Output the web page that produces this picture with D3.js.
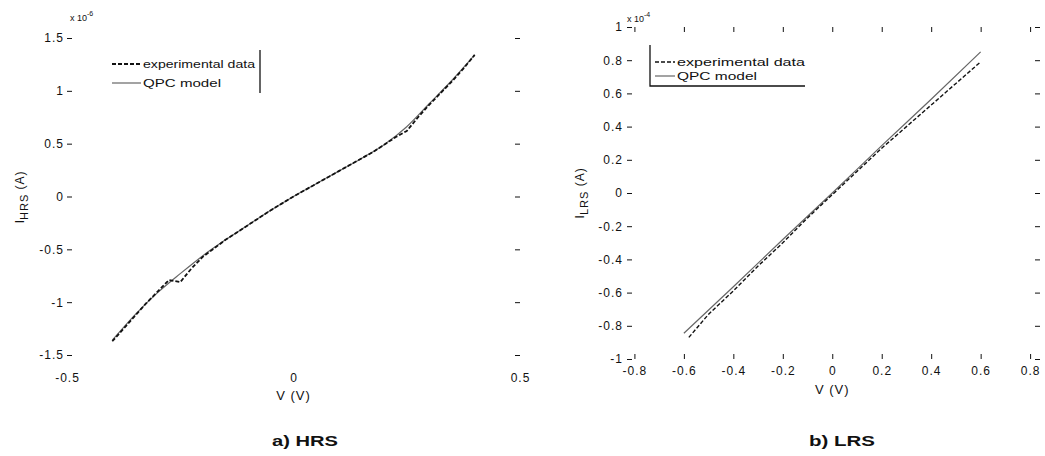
<!DOCTYPE html>
<html>
<head>
<meta charset="utf-8">
<script src="https://cdn.jsdelivr.net/npm/d3@7"></script>
<style>
  body { margin: 0; background: #fff; }
  svg { font-family: 'Liberation Sans', Arial, sans-serif; }
  .tick text { font-size: 12px; letter-spacing: 1px; fill: #111; }
  .tick line { stroke: #111; }
</style>
</head>
<body>
<script>
// HRS data (current in 1e-6 A)
var hrsModelV = [-0.40, -0.35, -0.30, -0.25, -0.20, -0.15, -0.10, -0.05, 0, 0.05, 0.10, 0.15, 0.20, 0.25, 0.30, 0.35, 0.40];
var hrsModelI = [-1.36, -1.12, -0.91, -0.73, -0.56, -0.41, -0.27, -0.13, 0, 0.12, 0.24, 0.36, 0.49, 0.66, 0.88, 1.10, 1.34];
var hrsExpV = [-0.40, -0.375, -0.35, -0.325, -0.30, -0.275, -0.25, -0.225, -0.20, -0.175, -0.15, -0.125, -0.10, -0.075, -0.05, -0.025, 0,
  0.025, 0.05, 0.075, 0.10, 0.125, 0.15, 0.175, 0.20, 0.225, 0.25, 0.275, 0.30, 0.325, 0.35, 0.375, 0.40];
var hrsExpI = [-1.37, -1.25, -1.13, -1.01, -0.90, -0.79, -0.81, -0.68, -0.57, -0.49, -0.41, -0.34, -0.27, -0.20, -0.13, -0.065, 0,
  0.06, 0.12, 0.18, 0.24, 0.30, 0.36, 0.42, 0.49, 0.56, 0.62, 0.75, 0.87, 0.98, 1.09, 1.21, 1.34];

// LRS data (current in 1e-4 A)
var lrsModelV = [-0.6, -0.4, -0.2, 0, 0.2, 0.4, 0.6];
var lrsModelI = [-0.845, -0.565, -0.28, 0, 0.285, 0.565, 0.85];
var lrsExpV = [-0.58, -0.5, -0.4, -0.3, -0.2, -0.1, 0, 0.1, 0.2, 0.3, 0.4, 0.5, 0.6];
var lrsExpI = [-0.87, -0.73, -0.59, -0.44, -0.30, -0.15, -0.01, 0.13, 0.27, 0.40, 0.53, 0.66, 0.79];

// tick values
var hrsXTicks = [-0.5, 0, 0.5];
var hrsYTicks = [-1.5, -1, -0.5, 0, 0.5, 1, 1.5];
var lrsXTicks = [-0.8, -0.6, -0.4, -0.2, 0, 0.2, 0.4, 0.6, 0.8];
var lrsYTicks = [-1, -0.8, -0.6, -0.4, -0.2, 0, 0.2, 0.4, 0.6, 0.8, 1];

var legendLabels = ['experimental data', 'QPC model'];

var svg = d3.select('body').append('svg')
  .attr('width', 1045)
  .attr('height', 456);

function zip(a, b) {
  return a.map(function(v, i) { return [v, b[i]]; });
}

// plain hyphen minus like the original figure
function fmt(d) { return String(d); }

function drawPanel(p) {
  var x = d3.scaleLinear().domain(p.xDomain).range([p.left, p.right]);
  var y = d3.scaleLinear().domain(p.yDomain).range([p.bottom, p.top]);
  var g = svg.append('g');

  // y ticks, left and right (pointing inward)
  g.append('g')
    .attr('transform', 'translate(' + p.left + ',0)')
    .call(d3.axisLeft(y).tickValues(p.yTicks).tickSize(-5).tickPadding(p.yPad).tickFormat(fmt))
    .call(function(s) { s.select('.domain').remove(); });
  g.append('g')
    .attr('transform', 'translate(' + p.right + ',0)')
    .call(d3.axisRight(y).tickValues(p.yTicks).tickSize(-5).tickFormat(''))
    .call(function(s) { s.select('.domain').remove(); });

  // x ticks
  g.append('g')
    .attr('transform', 'translate(0,' + p.bottom + ')')
    .call(d3.axisBottom(x).tickValues(p.xTicks).tickSize(p.xTickMarks ? -5 : 0).tickPadding(p.xPad).tickFormat(fmt))
    .call(function(s) { s.select('.domain').remove(); });
  if (p.xTickMarks) {
    g.append('g')
      .attr('transform', 'translate(0,' + p.top + ')')
      .call(d3.axisTop(x).tickValues(p.xTicks).tickSize(-5).tickFormat(''))
      .call(function(s) { s.select('.domain').remove(); });
  }

  var line = d3.line()
    .x(function(d) { return x(d[0]); })
    .y(function(d) { return y(d[1]); });

  g.append('path')
    .datum(zip(p.modelV, p.modelI))
    .attr('d', line.curve(d3.curveMonotoneX))
    .attr('fill', 'none')
    .attr('stroke', '#666')
    .attr('stroke-width', 1.2);

  g.append('path')
    .datum(zip(p.expV, p.expI))
    .attr('d', line.curve(d3.curveLinear))
    .attr('fill', 'none')
    .attr('stroke', '#111')
    .attr('stroke-width', p.expWidth)
    .attr('stroke-dasharray', '4,2');

  // exponent note
  var ex = g.append('text')
    .attr('x', p.expoX)
    .attr('y', p.expoY)
    .attr('font-size', 9)
    .attr('fill', '#111');
  ex.append('tspan').text('x 10');
  ex.append('tspan').attr('dy', -5).attr('font-size', 7).text(p.expo);

  // y label
  var yl = g.append('text')
    .attr('transform', 'translate(' + p.ylX + ',' + p.ylY + ') rotate(-90)')
    .attr('text-anchor', 'middle')
    .attr('font-size', 13)
    .attr('fill', '#111');
  yl.append('tspan').text('I');
  yl.append('tspan').attr('dy', 4).attr('font-size', 11).attr('letter-spacing', 1).text(p.sub);
  yl.append('tspan').attr('dy', -4).attr('font-size', 12).attr('letter-spacing', 1).text(' (A)');

  // x label
  g.append('text')
    .attr('x', x(0))
    .attr('y', p.xlY)
    .attr('text-anchor', 'middle')
    .attr('font-size', 13)
    .attr('letter-spacing', 1)
    .attr('fill', '#111')
    .text('V (V)');

  // caption
  g.append('text')
    .attr('x', p.capX)
    .attr('y', 446)
    .attr('text-anchor', 'middle')
    .attr('font-size', 15)
    .attr('font-weight', 'bold')
    .attr('textLength', 66)
    .attr('lengthAdjust', 'spacingAndGlyphs')
    .attr('fill', '#111')
    .text(p.caption);

  // legend
  var lg = g.append('g');
  lg.append('path')
    .attr('d', p.legBox)
    .attr('fill', 'none')
    .attr('stroke', '#111')
    .attr('stroke-width', 1.3);
  legendLabels.forEach(function(lab, i) {
    var ly = p.legY[i];
    lg.append('line')
      .attr('x1', p.legX0).attr('x2', p.legX1)
      .attr('y1', ly).attr('y2', ly)
      .attr('stroke', i === 0 ? '#111' : '#666')
      .attr('stroke-width', i === 0 ? p.expWidth : 1.2)
      .attr('stroke-dasharray', i === 0 ? '4,2' : null);
    lg.append('text')
      .attr('x', p.legX1 + 2)
      .attr('y', ly + 4)
      .attr('font-size', 11)
      .attr('textLength', p.legW[i])
      .attr('lengthAdjust', 'spacingAndGlyphs')
      .attr('fill', '#111')
      .text(lab);
  });
}

drawPanel({
  xDomain: [-0.5, 0.5], yDomain: [-1.5, 1.5],
  left: 67, right: 520, top: 38, bottom: 355,
  xTicks: hrsXTicks, yTicks: hrsYTicks, xTickMarks: false,
  yPad: 3, xPad: 18,
  modelV: hrsModelV, modelI: hrsModelI, expV: hrsExpV, expI: hrsExpI, expWidth: 1.8,
  expoX: 70, expoY: 21, expo: '-6',
  ylX: 24, ylY: 197, sub: 'HRS',
  xlY: 400, capX: 305, caption: 'a) HRS',
  legBox: 'M260,50V93', legX0: 112, legX1: 141, legY: [64, 83], legW: [112, 78]
});

drawPanel({
  xDomain: [-0.83, 0.84], yDomain: [-1, 1],
  left: 627, right: 1040, top: 27, bottom: 359,
  xTicks: lrsXTicks, yTicks: lrsYTicks, xTickMarks: true,
  yPad: 4, xPad: 7,
  modelV: lrsModelV, modelI: lrsModelI, expV: lrsExpV, expI: lrsExpI, expWidth: 1.4,
  expoX: 627, expoY: 22, expo: '-4',
  ylX: 584, ylY: 193, sub: 'LRS',
  xlY: 394, capX: 842, caption: 'b) LRS',
  legBox: 'M650,45V86H805', legX0: 655, legX1: 675, legY: [62, 76], legW: [128, 80]
});
</script>
</body>
</html>
